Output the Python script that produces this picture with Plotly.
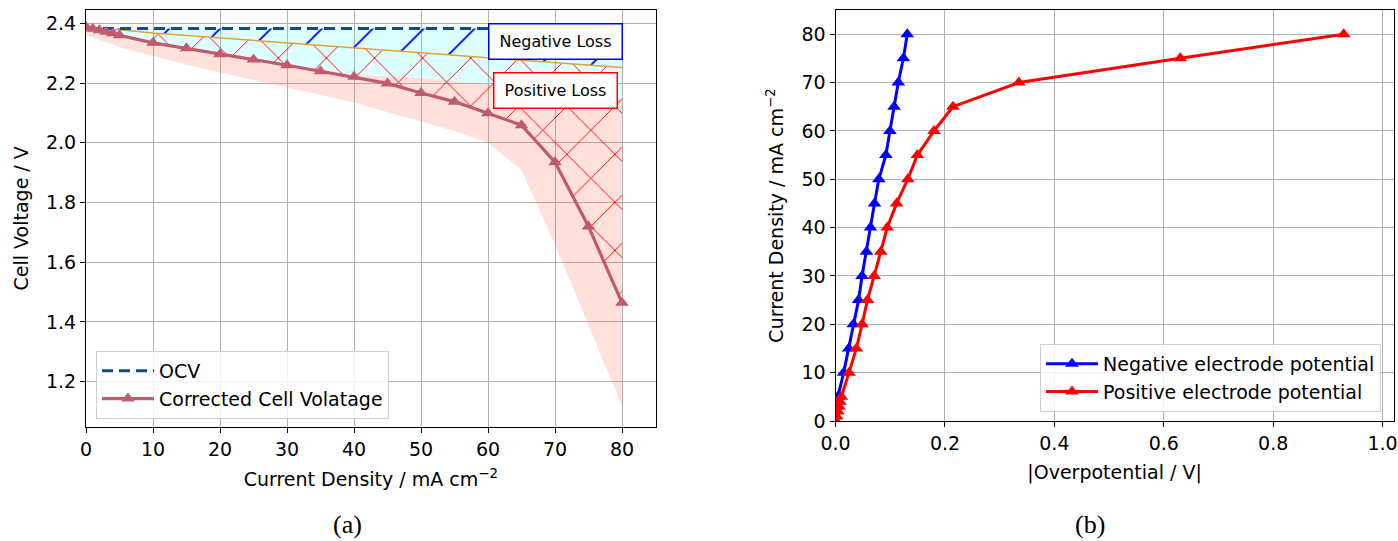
import plotly.graph_objects as go

# ---------------- data ----------------
current = [0, 1, 2, 3, 4, 5, 10, 15, 20, 25, 30, 35, 40, 45, 50, 55, 60, 65, 70, 75, 80]

ocv_v = [2.383, 2.383, 2.383, 2.383, 2.383, 2.383, 2.383, 2.383, 2.383, 2.383, 2.383,
         2.383, 2.383, 2.383, 2.383, 2.383, 2.383, 2.383, 2.383, 2.383, 2.383]
neg_loss_v = [2.385, 2.383, 2.382, 2.381, 2.380, 2.379, 2.368, 2.360, 2.352, 2.343, 2.335,
              2.326, 2.318, 2.311, 2.302, 2.293, 2.285, 2.276, 2.268, 2.260, 2.252]
cell_v = [2.388, 2.382, 2.377, 2.372, 2.367, 2.360, 2.335, 2.317, 2.297, 2.279, 2.260,
          2.240, 2.221, 2.199, 2.167, 2.138, 2.099, 2.059, 1.935, 1.720, 1.464]
band_mid_v = [2.378, 2.372, 2.367, 2.362, 2.357, 2.350, 2.328, 2.310, 2.290, 2.272, 2.255,
              2.240, 2.228, 2.222, 2.216, 2.206, 2.197, 2.186, 2.175, 2.163, 2.151]
band_low_v = [2.360, 2.353, 2.345, 2.337, 2.330, 2.320, 2.292, 2.262, 2.236, 2.210, 2.185,
              2.160, 2.135, 2.102, 2.072, 2.040, 2.000, 1.909, 1.660, 1.390, 1.118]

eta_neg = [0.0, 0.0008, 0.0016, 0.0024, 0.0032, 0.0042, 0.0147, 0.024, 0.0325, 0.0420, 0.0484,
           0.0564, 0.0637, 0.0711, 0.0790, 0.0919, 0.0993, 0.107, 0.1146, 0.124, 0.131]
eta_pos = [0.0, 0.002, 0.004, 0.006, 0.008, 0.0104, 0.0245, 0.038, 0.0484, 0.0582, 0.0705,
           0.0827, 0.0944, 0.1115, 0.132, 0.1495, 0.180, 0.2145, 0.335, 0.630, 0.929]

x_ticks_a = [0, 10, 20, 30, 40, 50, 60, 70, 80]
y_ticks_a = [1.2, 1.4, 1.6, 1.8, 2.0, 2.2, 2.4]
x_ticks_b = [0.0, 0.2, 0.4, 0.6, 0.8, 1.0]
y_ticks_b = [0, 10, 20, 30, 40, 50, 60, 70, 80]

FONT = "DejaVu Sans"
FS = 19
W, H = 1398, 541

def rev(a):
    return list(a)[::-1]

fig = go.Figure()

# --- uncertainty bands (left) ---
fig.add_trace(go.Scatter(
    x=current + rev(current), y=ocv_v + rev(band_mid_v),
    fill="toself", fillcolor="rgba(0,255,255,0.13)", line=dict(width=0),
    mode="lines", showlegend=False, hoverinfo="skip", xaxis="x", yaxis="y"))
fig.add_trace(go.Scatter(
    x=current + rev(current), y=band_mid_v + rev(band_low_v),
    fill="toself", fillcolor="rgba(255,99,71,0.2)", line=dict(width=0),
    mode="lines", showlegend=False, hoverinfo="skip", xaxis="x", yaxis="y"))

# --- hatched loss regions ---
fig.add_trace(go.Scatter(
    x=current + rev(current), y=ocv_v + rev(neg_loss_v),
    fill="toself", fillcolor="rgba(0,0,0,0)", line=dict(width=0),
    fillpattern=dict(shape="/", fgcolor="#0000ff", fgopacity=1, bgcolor="rgba(0,0,0,0)",
                     size=36, solidity=0.05, fillmode="replace"),
    mode="lines", showlegend=False, hoverinfo="skip", xaxis="x", yaxis="y"))
fig.add_trace(go.Scatter(
    x=current + rev(current), y=neg_loss_v + rev(cell_v),
    fill="toself", fillcolor="rgba(0,0,0,0)", line=dict(width=0),
    fillpattern=dict(shape="x", fgcolor="#ff0000", fgopacity=1, bgcolor="rgba(0,0,0,0)",
                     size=34, solidity=0.055, fillmode="replace"),
    mode="lines", showlegend=False, hoverinfo="skip", xaxis="x", yaxis="y"))

# --- lines (left) ---
fig.add_trace(go.Scatter(
    x=current, y=neg_loss_v, mode="lines", line=dict(color="#e5a032", width=1.5),
    showlegend=False, hoverinfo="skip", xaxis="x", yaxis="y"))
fig.add_trace(go.Scatter(
    x=current, y=ocv_v, mode="lines", name="OCV",
    line=dict(color="#0d4c92", width=3, dash="11px,6px"),
    legend="legend", xaxis="x", yaxis="y"))
fig.add_trace(go.Scatter(
    x=current, y=cell_v, mode="lines+markers", name="Corrected Cell Volatage",
    line=dict(color="#bf5b6c", width=3.2),
    marker=dict(symbol="triangle-up", size=12, color="#bf5b6c"),
    legend="legend", xaxis="x", yaxis="y"))

# --- right panel ---
fig.add_trace(go.Scatter(
    x=eta_neg, y=current, mode="lines+markers", name="Negative electrode potential",
    line=dict(color="#0000ff", width=3),
    marker=dict(symbol="triangle-up", size=12, color="#0000ff"),
    legend="legend2", xaxis="x2", yaxis="y2"))
fig.add_trace(go.Scatter(
    x=eta_pos, y=current, mode="lines+markers", name="Positive electrode potential",
    line=dict(color="#ff0000", width=3),
    marker=dict(symbol="triangle-up", size=12, color="#ff0000"),
    legend="legend2", xaxis="x2", yaxis="y2"))

axis_common = dict(
    showgrid=True, gridcolor="#b0b0b0", gridwidth=1,
    showline=True, mirror=True, linecolor="black", linewidth=1.2,
    ticks="outside", ticklen=5, tickcolor="black", tickwidth=1.2,
    tickfont=dict(family=FONT, size=FS, color="black"),
    zeroline=False, automargin=False,
)

fig.update_layout(
    width=W, height=H,
    margin=dict(l=0, r=0, t=0, b=0),
    paper_bgcolor="white", plot_bgcolor="white",
    font=dict(family=FONT, size=FS, color="black"),
    xaxis=dict(domain=[86 / W, 655.5 / W], range=[0, 85], tickvals=x_ticks_a,
               anchor="y",
               title=dict(text="Current Density / mA cm<sup>−2</sup>",
                          font=dict(family=FONT, size=FS), standoff=14),
               **axis_common),
    yaxis=dict(domain=[1 - 426.7 / H, 1 - 10 / H], range=[1.049, 2.445], tickvals=y_ticks_a,
               tickformat=".1f", anchor="x",
               title=dict(text="Cell Voltage / V", font=dict(family=FONT, size=FS), standoff=12),
               **axis_common),
    xaxis2=dict(domain=[835.6 / W, 1393.5 / W], range=[0, 1.02], tickvals=x_ticks_b,
                tickformat=".1f", anchor="y2",
                title=dict(text="|Overpotential / V|", font=dict(family=FONT, size=FS), standoff=12),
                **axis_common),
    yaxis2=dict(domain=[1 - 421 / H, 1 - 10 / H], range=[0, 85], tickvals=y_ticks_b,
                anchor="x2",
                title=dict(text="Current Density / mA cm<sup>−2</sup>",
                           font=dict(family=FONT, size=FS), standoff=12),
                **axis_common),
    legend=dict(x=96 / W, y=1 - 351 / H, xanchor="left", yanchor="top", itemwidth=52,
                bgcolor="rgba(255,255,255,0.85)", bordercolor="#d0d0d0", borderwidth=1,
                font=dict(family=FONT, size=FS)),
    legend2=dict(x=1381 / W, y=1 - 412 / H, xanchor="right", yanchor="bottom", itemwidth=52,
                 bgcolor="rgba(255,255,255,0.85)", bordercolor="#d0d0d0", borderwidth=1,
                 font=dict(family=FONT, size=FS)),
    annotations=[
        dict(x=70, y=2.338, xref="x", yref="y", text="Negative Loss", showarrow=False,
             font=dict(family=FONT, size=16, color="black"), bgcolor="white",
             bordercolor="blue", borderwidth=1.5, width=128, height=30, borderpad=2),
        dict(x=70, y=2.174, xref="x", yref="y", text="Positive Loss", showarrow=False,
             font=dict(family=FONT, size=16, color="black"), bgcolor="white",
             bordercolor="red", borderwidth=1.5, width=118, height=30, borderpad=2),
        dict(x=347 / W, y=1 - 524 / H, xref="paper", yref="paper", text="(a)", showarrow=False,
             xanchor="center", yanchor="middle",
             font=dict(family="Liberation Serif", size=26, color="black")),
        dict(x=1090 / W, y=1 - 524 / H, xref="paper", yref="paper", text="(b)", showarrow=False,
             xanchor="center", yanchor="middle",
             font=dict(family="Liberation Serif", size=26, color="black")),
    ],
)

fig.write_html("out.html")
